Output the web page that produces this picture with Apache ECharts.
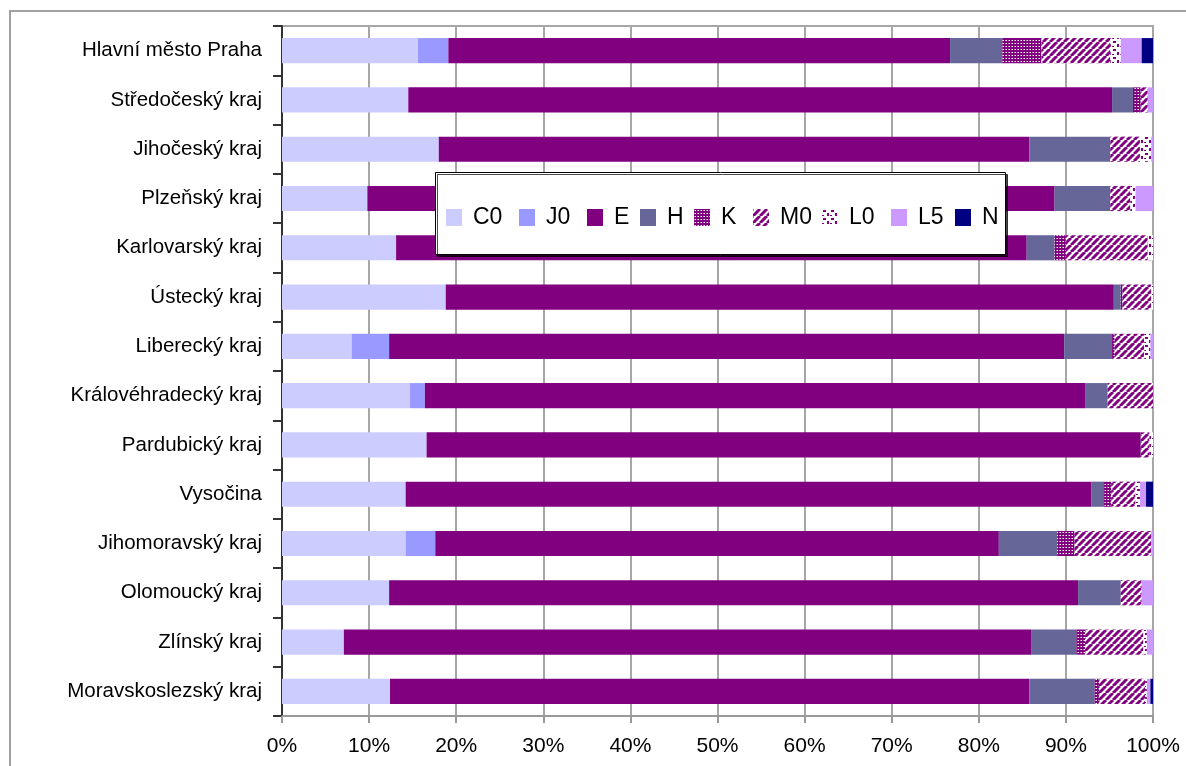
<!DOCTYPE html>
<html>
<head>
<meta charset="utf-8">
<script src="https://cdn.jsdelivr.net/npm/echarts@6/dist/echarts.min.js"></script>
<style>
html,body{margin:0;padding:0;background:#fff;}
#c{width:1186px;height:766px;}
</style>
</head>
<body>
<div id="c"></div>
<script>
// ---- data ----
const categories = ['Hlavní město Praha','Středočeský kraj','Jihočeský kraj','Plzeňský kraj','Karlovarský kraj','Ústecký kraj','Liberecký kraj','Královéhradecký kraj','Pardubický kraj','Vysočina','Jihomoravský kraj','Olomoucký kraj','Zlínský kraj','Moravskoslezský kraj'];
const seriesNames = ['C0','J0','E','H','K','M0','L0','L5','N'];
const C0 = [15.6,14.5,18.0,9.8,13.1,18.8,8.0,14.7,16.6,14.2,14.2,12.3,7.1,12.4];
const J0 = [3.5,0,0,0,0,0,4.3,1.7,0,0,3.4,0,0,0];
const E  = [57.6,80.8,67.8,78.9,72.4,76.7,77.5,75.8,82.0,78.7,64.7,79.1,78.9,73.4];
const H  = [6.0,2.4,9.3,6.4,3.2,0.8,5.5,2.6,0,1.4,6.7,4.9,5.2,7.5];
const K  = [4.5,0.9,0,0,1.3,0.2,0.3,0,0,0.9,2.0,0,1.0,0.5];
const M0 = [7.9,0.8,3.4,2.3,9.4,3.3,3.4,5.2,1.0,2.8,8.8,2.4,6.7,5.3];
const L0 = [1.2,0,1.3,0.6,0.6,0.2,0.7,0,0.4,0.5,0,0,0.4,0.2];
const L5 = [2.4,0.6,0.2,2.0,0,0,0.3,0,0,0.7,0.2,1.3,0.7,0.4];
const N  = [1.3,0,0,0,0,0,0,0,0,0.8,0,0,0,0.3];
const xTicks = [0,10,20,30,40,50,60,70,80,90,100];

const seriesData = [C0,J0,E,H,K,M0,L0,L5,N];

// ---- patterns ----
const PURPLE = '#800080';
function tile(w,h,draw){const c=document.createElement('canvas');c.width=w;c.height=h;const g=c.getContext('2d');draw(g,w,h);return {image:c,repeat:'repeat'};}
const patK = tile(3,3,(g)=>{g.fillStyle=PURPLE;g.fillRect(0,0,3,3);g.fillStyle='#ffffff';g.fillRect(1,1,1,1);g.fillStyle='#c080c0';g.fillRect(0,1,1,1);});
const patM0 = tile(7,7,(g,w,h)=>{g.fillStyle='#fff';g.fillRect(0,0,w,h);g.strokeStyle=PURPLE;g.lineWidth=3;for(let i=-1;i<=1;i++){g.beginPath();g.moveTo(i*w,h);g.lineTo(i*w+w,0);g.stroke();}});
const patL0 = tile(8,8,(g)=>{g.fillStyle='#fff';g.fillRect(0,0,8,8);g.fillStyle=PURPLE;g.fillRect(1,1,3,2);g.fillRect(5,4,2,3);g.fillRect(0,6,2,1);});
const colors = ['#CCCCFF','#9999FF',PURPLE,'#666699',patK,patM0,patL0,'#CC99FF','#000080'];

const legendX = [446,519,587,640,694,753,822,891,955];

const FONT = 'Liberation Sans, Arial, sans-serif';
const chart = echarts.init(document.getElementById('c'));
chart.setOption({
  backgroundColor:'#fff',
  animation:false,
  grid:{left:282,right:33,top:26,bottom:50,show:true,borderColor:'#a6a6a6',borderWidth:2,backgroundColor:'transparent'},
  xAxis:{type:'value',min:0,max:100,interval:10,
    axisLine:{show:true,lineStyle:{color:'#999',width:2}},
    axisTick:{show:true,length:7,lineStyle:{color:'#999',width:2}},
    splitLine:{show:true,lineStyle:{color:'#a6a6a6',width:2}},
    axisLabel:{formatter:function(v){return xTicks.indexOf(v)>=0? v+'%':'';},fontSize:21,fontFamily:FONT,color:'#000',margin:20}},
  yAxis:{type:'category',data:categories,inverse:true,
    axisLine:{show:true,lineStyle:{color:'#333',width:2}},
    axisTick:{show:true,length:9,lineStyle:{color:'#333',width:2}},
    splitLine:{show:false},
    axisLabel:{fontSize:20.5,fontFamily:FONT,color:'#000',margin:20}},
  legend: seriesNames.map((n,i)=>({
    data:[n],left:legendX[i],top:206,padding:0,itemWidth:16,itemHeight:17,z:20,
    icon:'rect',selectedMode:false,
    textStyle:{fontSize:23,fontFamily:FONT,color:'#000',lineHeight:22,padding:[0,0,0,6]}
  })),
  graphic:[
    {type:'rect',silent:true,z:-10,shape:{x:10,y:11,width:1300,height:900},style:{fill:'none',stroke:'#a0a0a0',lineWidth:2}},
    {type:'rect',silent:true,z:10,shape:{x:435.5,y:172.5,width:570,height:82},style:{fill:'#fff',stroke:'#000',lineWidth:1,shadowColor:'rgba(0,0,0,0.7)',shadowOffsetX:2,shadowOffsetY:2,shadowBlur:0}}
  ],
  series: seriesNames.map((n,i)=>({
    name:n,type:'bar',stack:'total',barCategoryGap:'49%',
    itemStyle:{color:colors[i]},
    data:seriesData[i]
  }))
});
</script>
</body>
</html>
